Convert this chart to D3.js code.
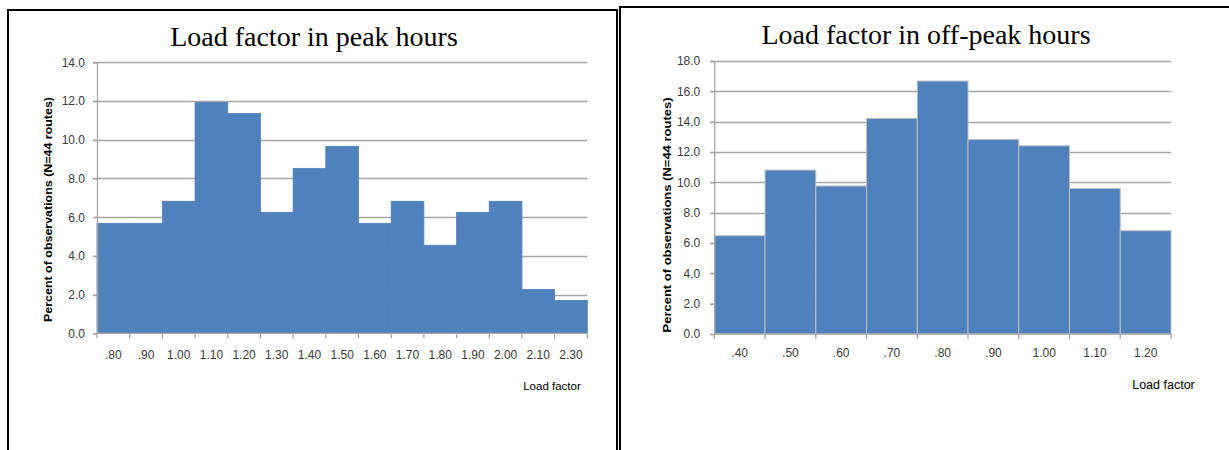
<!DOCTYPE html>
<html>
<head>
<meta charset="utf-8">
<script src="https://cdn.jsdelivr.net/npm/d3@7"></script>
<style>
  html, body { margin: 0; padding: 0; background: #fff; }
  svg { display: block; }
</style>
</head>
<body>
<svg id="chart" width="1229" height="450"></svg>
<script>
// ---- Data ----
const peakTitle = "Load factor in peak hours";
const peakLabels = [".80", ".90", "1.00", "1.10", "1.20", "1.30", "1.40", "1.50", "1.60", "1.70", "1.80", "1.90", "2.00", "2.10", "2.30"];
const peakValues = [5.68, 5.68, 6.82, 11.93, 11.36, 6.25, 8.52, 9.66, 5.68, 6.82, 4.55, 6.25, 6.82, 2.27, 1.70];
const peakYTicks = [0, 2, 4, 6, 8, 10, 12, 14];

const offTitle = "Load factor in off-peak hours";
const offLabels = [".40", ".50", ".60", ".70", ".80", ".90", "1.00", "1.10", "1.20"];
const offValues = [6.48, 10.81, 9.76, 14.22, 16.68, 12.83, 12.41, 9.60, 6.81];
const offYTicks = [0, 2, 4, 6, 8, 10, 12, 14, 16, 18];

const yAxisTitle = "Percent of observations  (N=44 routes)";
const xAxisTitle = "Load factor";

// ---- Drawing ----
const svg = d3.select("#chart");
const barColor = "#4F81BD";
const gridColor = "#A6A6A6";

// panel borders
svg.append("path")
  .attr("d", "M8,450 L8,10 L617,10 L617,450")
  .attr("fill", "none").attr("stroke", "#000").attr("stroke-width", 2);
svg.append("path")
  .attr("d", "M620,450 L620,7 L1229,7")
  .attr("fill", "none").attr("stroke", "#000").attr("stroke-width", 2);

function drawChart(cfg) {
  const g = svg.append("g");
  const x = d3.scaleBand().domain(cfg.labels).range([cfg.x0, cfg.x1]).padding(0);
  const y = d3.scaleLinear().domain([0, cfg.yMax]).range([cfg.y0, cfg.y1]);

  // gridlines
  g.append("g").selectAll("line")
    .data(cfg.yTicks.filter(t => t > 0))
    .join("line")
    .attr("x1", cfg.x0 - 4).attr("x2", cfg.x1)
    .attr("y1", d => Math.round(y(d)) + 0.5).attr("y2", d => Math.round(y(d)) + 0.5)
    .attr("stroke", gridColor).attr("stroke-width", 1.3);

  // bars
  g.append("g").selectAll("rect")
    .data(cfg.values)
    .join("rect")
    .attr("x", (d, i) => x(cfg.labels[i]))
    .attr("width", x.bandwidth())
    .attr("y", d => y(d))
    .attr("height", d => y(0) - y(d))
    .attr("fill", barColor)
    .attr("stroke", cfg.barStroke || barColor)
    .attr("stroke-width", cfg.barStroke ? 1 : 0.8);

  // y axis
  const yAxis = d3.axisLeft(y).tickValues(cfg.yTicks).tickFormat(d3.format(".1f")).tickSize(4).tickPadding(cfg.yPad);
  const ya = g.append("g").attr("transform", `translate(${cfg.x0},0)`).call(yAxis);
  ya.select(".domain").attr("stroke", gridColor).attr("stroke-width", 1.3);
  ya.selectAll(".tick line").attr("stroke", gridColor).attr("stroke-width", 1.3);
  ya.selectAll("text").attr("font-family", "Liberation Sans, Arial, sans-serif")
    .attr("font-size", 12).attr("fill", "#3a3a3a");

  // x axis (labels centered in bins, ticks at bin edges)
  const xAxis = d3.axisBottom(x).tickSize(0).tickPadding(cfg.xPad);
  const xa = g.append("g").attr("transform", `translate(0,${cfg.y0})`).call(xAxis);
  xa.select(".domain").remove();
  xa.selectAll("text").attr("font-family", "Liberation Sans, Arial, sans-serif")
    .attr("font-size", 12).attr("fill", "#3a3a3a");
  g.append("line")
    .attr("x1", cfg.x0).attr("x2", cfg.x1)
    .attr("y1", y(0)).attr("y2", y(0))
    .attr("stroke", gridColor).attr("stroke-width", 1.3);
  const edges = cfg.labels.map(l => x(l)).concat([cfg.x1]);
  g.append("g").selectAll("line").data(edges).join("line")
    .attr("x1", d => d).attr("x2", d => d)
    .attr("y1", y(0)).attr("y2", y(0) + 5)
    .attr("stroke", gridColor).attr("stroke-width", 1.3);

  // title
  g.append("text")
    .attr("x", cfg.titleX).attr("y", cfg.titleY)
    .attr("text-anchor", "middle")
    .attr("font-family", "Liberation Serif, Times New Roman, serif")
    .attr("font-size", 28).attr("fill", "#000")
    .text(cfg.title);

  // y axis title
  g.append("text")
    .attr("transform", `translate(${cfg.yTitleX},${cfg.yTitleY}) rotate(-90)`)
    .attr("text-anchor", "middle").attr("dominant-baseline", "central")
    .attr("font-family", "Liberation Sans, Arial, sans-serif")
    .attr("font-weight", "bold").attr("font-size", 10.5)
    .attr("textLength", cfg.yTitleLen).attr("lengthAdjust", "spacingAndGlyphs")
    .attr("fill", "#000")
    .text(yAxisTitle);

  // x axis title
  g.append("text")
    .attr("x", cfg.xTitleX).attr("y", cfg.xTitleY)
    .attr("text-anchor", "middle")
    .attr("font-family", "Liberation Sans, Arial, sans-serif")
    .attr("font-size", cfg.xTitleSize).attr("fill", "#000")
    .text(xAxisTitle);
}

drawChart({
  title: peakTitle, labels: peakLabels, values: peakValues, yTicks: peakYTicks, yMax: 14,
  x0: 97, x1: 587.3, y0: 333.3, y1: 62.3,
  yPad: 8, xPad: 17,
  titleX: 314, titleY: 45.5,
  yTitleX: 48, yTitleY: 209.5, yTitleLen: 225,
  xTitleX: 552, xTitleY: 390, xTitleSize: 11.5
});

drawChart({
  title: offTitle, labels: offLabels, values: offValues, yTicks: offYTicks, yMax: 18,
  x0: 714.3, x1: 1171, y0: 334, y1: 61,
  yPad: 10, xPad: 14, barStroke: "#BFBFBF",
  titleX: 926, titleY: 44,
  yTitleX: 666.7, yTitleY: 215, yTitleLen: 235,
  xTitleX: 1163.5, xTitleY: 389, xTitleSize: 12.5
});
</script>
</body>
</html>
